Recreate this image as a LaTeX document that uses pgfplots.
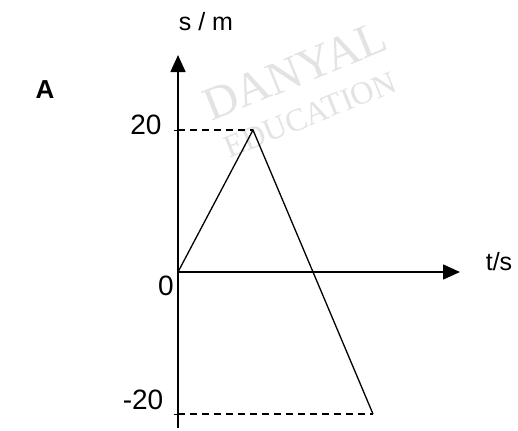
\documentclass[border=0pt]{standalone}
\usepackage{fontspec}
\setmainfont{Liberation Sans}
\newfontfamily\wmfont{Liberation Serif}
\usepackage{pgfplots}
\pgfplotsset{compat=1.18}
\usetikzlibrary{arrows.meta}
\begin{document}
\begin{tikzpicture}
\useasboundingbox (0,0) rectangle (518pt,430pt);
\fill[white] (0,0) rectangle (518pt,430pt);
% watermark
\node[rotate=22, text=black!11, font=\wmfont\fontsize{47}{50}\selectfont] at (295pt,359pt) {DANYAL};
\node[rotate=22, text=black!11, font=\wmfont\fontsize{32}{36}\selectfont] at (310pt,315pt) {EDUCATION};
\begin{axis}[
  anchor=south west, at={(178pt,2pt)},
  x=75pt, y=7.1pt,
  xmin=0, xmax=3.76, ymin=-21.97, ymax=30.56,
  axis lines=middle,
  axis line style={line width=1.6pt, -{Triangle[length=17pt,width=15pt]}},
  xtick=\empty,
  ytick={-20,20}, yticklabels={},
  major tick length=9pt, tick align=center,
  tick style={line width=1pt, black},
  clip=false,
]
\addplot[black, line width=1.1pt, dash pattern=on 7pt off 5pt] coordinates {(0,20) (1,20)};
\addplot[black, line width=1.1pt, dash pattern=on 7pt off 5pt] coordinates {(0,-20) (2.6,-20)};
\addplot[black, line width=1.3pt] coordinates {(0,0) (1,20) (2.6,-20)};
\end{axis}
\node[font=\fontsize{25}{30}\selectfont] at (206pt,408pt) {s / m};
\node[font=\bfseries\fontsize{26}{30}\selectfont] at (45pt,340pt) {A};
\node[font=\fontsize{28}{30}\selectfont] at (146pt,305pt) {20};
\node[font=\fontsize{28}{30}\selectfont] at (143pt,30pt) {-20};
\node[font=\fontsize{28}{30}\selectfont] at (166pt,144pt) {0};
\node[font=\fontsize{25}{30}\selectfont] at (499pt,168pt) {t/s};
\end{tikzpicture}
\end{document}
